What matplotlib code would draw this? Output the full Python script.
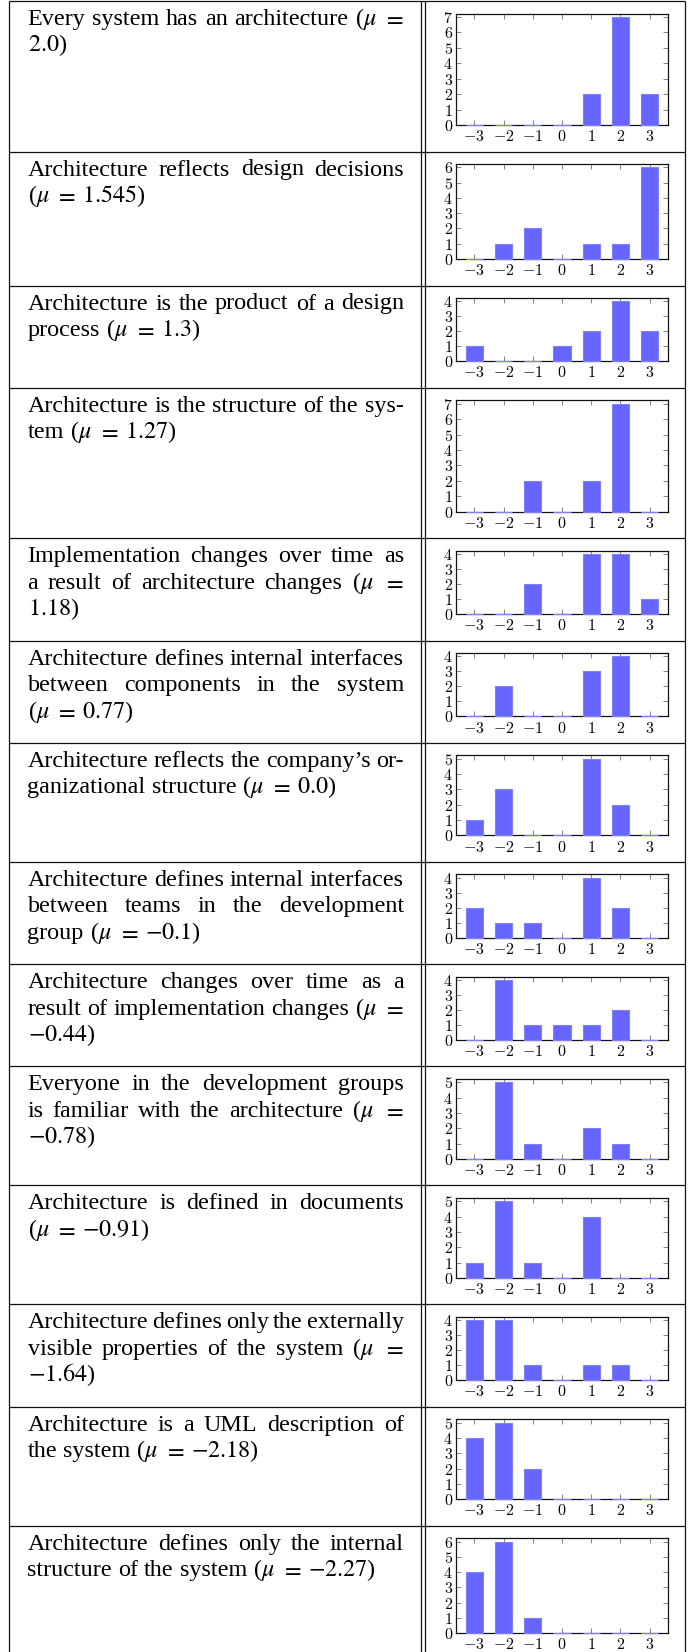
import matplotlib
matplotlib.use("Agg")
import matplotlib.pyplot as plt

plt.rcParams["font.family"] = ["Liberation Serif", "DejaVu Serif"]
plt.rcParams["mathtext.fontset"] = "cm"

# ---------------- data ----------------
SCORES = [-3, -2, -1, 0, 1, 2, 3]

STATEMENTS = [
    "Every system has an architecture",
    "Architecture reflects design decisions",
    "Architecture is the product of a design\nprocess",
    "Architecture is the structure of the sys-\ntem",
    "Implementation changes over time as\na result of architecture changes",
    "Architecture defines internal interfaces\nbetween components in the system",
    "Architecture reflects the company\u2019s or-\nganizational structure",
    "Architecture defines internal interfaces\nbetween teams in the development\ngroup",
    "Architecture changes over time as a\nresult of implementation changes",
    "Everyone in the development groups\nis familiar with the architecture",
    "Architecture is defined in documents",
    "Architecture defines only the externally\nvisible properties of the system",
    "Architecture is a UML description of\nthe system",
    "Architecture defines only the internal\nstructure of the system",
]

MEANS = [2.0, 1.545, 1.3, 1.27, 1.18, 0.77, 0.0, -0.1, -0.44, -0.78,
         -0.91, -1.64, -2.18, -2.27]

# where the "(mu = value)" part is broken in the typeset cell
MU_BREAK = ["after", "before", "none", "none", "after", "before", "none",
            "none", "after", "after", "before", "after", "none", "none"]

COUNTS = [
    [0, 0, 0, 0, 2, 7, 2],
    [0, 1, 2, 0, 1, 1, 6],
    [1, 0, 0, 1, 2, 4, 2],
    [0, 0, 2, 0, 2, 7, 0],
    [0, 0, 2, 0, 4, 4, 1],
    [0, 2, 0, 0, 3, 4, 0],
    [1, 3, 0, 0, 5, 2, 0],
    [2, 1, 1, 0, 4, 2, 0],
    [0, 4, 1, 1, 1, 2, 0],
    [0, 5, 1, 0, 2, 1, 0],
    [1, 5, 1, 0, 4, 0, 0],
    [4, 4, 1, 0, 1, 1, 0],
    [4, 5, 2, 0, 0, 0, 0],
    [4, 6, 1, 0, 0, 0, 0],
]

# ---------------- layout (pixels) ----------------
FIG_W, FIG_H = 688, 1652
DPI = 100
X_LEFT, X_D1, X_D2, X_RIGHT = 9.0, 420.5, 424.5, 684.5
TEXT_L, TEXT_R = 27.5, 404.0
BOX_L, BOX_R = 456.0, 668.0
TOP = 1.0
ROW_H = {4: 102.3, 5: 119.0, 6: 134.0, 7: 150.5}
BOX_TOP_PAD, BOX_BOT_PAD = 12.5, 26.5
FS = 17.4               # body font size (pt)
LINE_SKIP = 26.5        # px between baselines
FIRST_BASE = 24.0       # px from row top to first baseline
BAR_FILL = "#6666ff"
BAR_EDGE = "#8080ff"

fig = plt.figure(figsize=(FIG_W / DPI, FIG_H / DPI), dpi=DPI)
bg = fig.add_axes([0, 0, 1, 1])
bg.set_xlim(0, FIG_W)
bg.set_ylim(FIG_H, 0)
bg.axis("off")
renderer = fig.canvas.get_renderer()

space_px = 0.25 * FS * DPI / 72.0


def cell_lines(stmt, mu, brk):
    lines = [ln.split(" ") for ln in stmt.split("\n")]
    head = ["($\\mu$", "$=$"]
    val = "$%s$)" % repr(mu)
    if brk == "after":
        lines[-1] += head
        lines.append([val])
    elif brk == "before":
        lines.append(head + [val])
    else:
        lines[-1] += head + [val]
    return lines


def draw_cell_text(lines, y_top):
    width = TEXT_R - TEXT_L
    for li, toks in enumerate(lines):
        yb = y_top + FIRST_BASE + li * LINE_SKIP
        objs = []
        for t in toks:
            o = bg.text(0, yb, t, fontsize=FS, ha="left", va="baseline",
                        math_fontfamily="stix", color="black")
            objs.append(o)
        widths = [o.get_window_extent(renderer=renderer).width for o in objs]
        last = li == len(lines) - 1
        if not last and len(objs) > 1:
            gap = (width - sum(widths)) / (len(objs) - 1)
        else:
            gap = space_px
        x = TEXT_L
        for o, w in zip(objs, widths):
            o.set_x(x)
            x += w + gap


y = TOP
row_edges = [y]
for i, counts in enumerate(COUNTS):
    ymax = max(counts)
    h = ROW_H[ymax]
    y0, y1 = y, y + h
    # text cell
    draw_cell_text(cell_lines(STATEMENTS[i], MEANS[i], MU_BREAK[i]), y0)
    # chart cell
    btop = y0 + BOX_TOP_PAD
    bbot = y1 - BOX_BOT_PAD
    ax = fig.add_axes([BOX_L / FIG_W, 1 - bbot / FIG_H,
                       (BOX_R - BOX_L) / FIG_W, (bbot - btop) / FIG_H])
    ax.bar(SCORES, counts, width=0.59, color=BAR_FILL, edgecolor=BAR_EDGE,
           linewidth=0.8, zorder=3, clip_on=False)
    ax.set_xlim(-3.625, 3.625)
    ax.set_ylim(0, ymax + 0.22)
    ax.set_xticks(SCORES)
    ax.set_xticklabels(["$%d$" % s for s in SCORES])
    ax.set_yticks(list(range(ymax + 1)))
    ax.set_yticklabels(["$%d$" % v for v in range(ymax + 1)])
    ax.tick_params(direction="in", length=3.5, width=0.5, color="#555555",
                   top=True, right=True, labelsize=11.5)
    ax.tick_params(axis="x", pad=3.0)
    ax.tick_params(axis="y", pad=2.2)
    for sp in ax.spines.values():
        sp.set_linewidth(0.9)
        sp.set_color("#111111")
        sp.set_zorder(2.5)
    ax.set_facecolor("none")
    y = y1
    row_edges.append(y)

# table rules
for ye in row_edges:
    bg.plot([X_LEFT, X_RIGHT], [ye, ye], color="#111111", lw=0.9,
            solid_capstyle="butt")
for xv in (X_LEFT, X_D1, X_D2, X_RIGHT):
    bg.plot([xv, xv], [TOP, row_edges[-1]], color="#111111", lw=0.9,
            solid_capstyle="butt")

fig.savefig("out.png", dpi=DPI)
